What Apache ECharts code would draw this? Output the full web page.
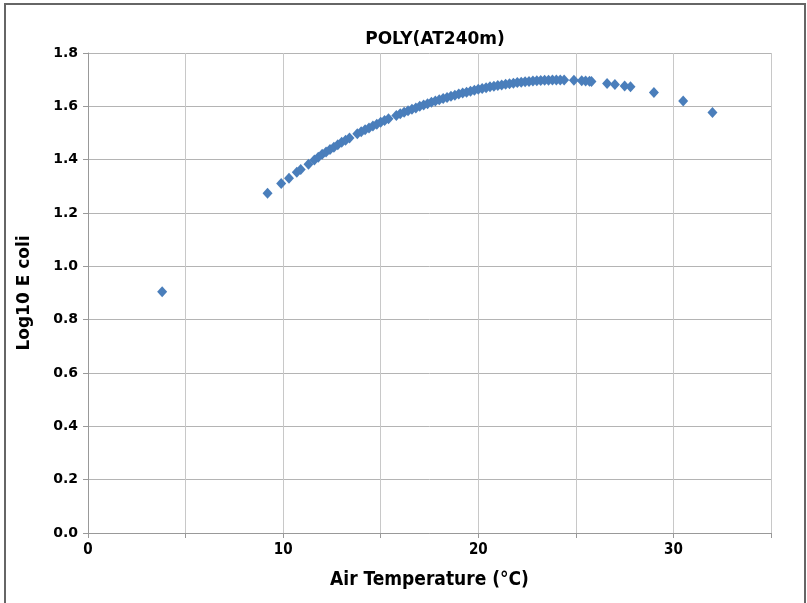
<!DOCTYPE html>
<html>
<head>
<meta charset="utf-8">
<title>POLY(AT240m)</title>
<script src="https://cdn.jsdelivr.net/npm/echarts@6/dist/echarts.min.js"></script>
<style>
  html, body { margin: 0; padding: 0; background: #fff; }
  #main { width: 807px; height: 603px; }
</style>
</head>
<body>
<div id="main"></div>
<script>
// air temperature (°C)
var temps = [
  3.8, 9.2, 9.9, 10.3, 10.7, 10.9, 11.3, 11.6, 11.8,
  12.0, 12.2, 12.4, 12.6, 12.8, 13.0, 13.2, 13.4,
  13.8, 14.0, 14.2, 14.4, 14.6, 14.8, 15.0, 15.2, 15.4,
  15.8, 16.0, 16.2, 16.4, 16.6, 16.8, 17.0, 17.2, 17.4, 17.6, 17.8,
  18.0, 18.2, 18.4, 18.6, 18.8, 19.0, 19.2, 19.4, 19.6, 19.8,
  20.0, 20.2, 20.4, 20.6, 20.8, 21.0, 21.2, 21.4, 21.6, 21.8,
  22.0, 22.2, 22.4, 22.6, 22.8, 23.0, 23.2, 23.4, 23.6, 23.8,
  24.0, 24.2, 24.4, 24.9, 25.3, 25.5, 25.7, 25.8,
  26.6, 27.0, 27.5, 27.8, 29.0, 30.5, 32.0
];
// log10 E coli
var logEcoli = [
  0.905, 1.274, 1.311, 1.330, 1.353, 1.363, 1.383, 1.399, 1.409,
  1.420, 1.429, 1.438, 1.447, 1.456, 1.465, 1.473, 1.481,
  1.497, 1.505, 1.512, 1.519, 1.526, 1.533, 1.540, 1.547, 1.553,
  1.566, 1.572, 1.578, 1.583, 1.589, 1.594, 1.600, 1.605, 1.610, 1.615, 1.620,
  1.625, 1.629, 1.633, 1.638, 1.642, 1.646, 1.650, 1.653, 1.657, 1.660,
  1.664, 1.667, 1.670, 1.673, 1.675, 1.678, 1.680, 1.683, 1.685, 1.687,
  1.689, 1.690, 1.692, 1.693, 1.695, 1.696, 1.697, 1.698, 1.698, 1.699,
  1.699, 1.699, 1.699, 1.698, 1.696, 1.695, 1.694, 1.693,
  1.686, 1.682, 1.676, 1.673, 1.652, 1.620, 1.577
];
var xLabels = ['0', '10', '20', '30'];

var points = [];
for (var i = 0; i < temps.length; i++) {
  points.push([temps[i], logEcoli[i]]);
}

var narrow = '"DejaVu Sans Condensed", "Liberation Sans", sans-serif';

var myChart = echarts.init(document.getElementById('main'));

var option = {
  animation: false,
  backgroundColor: '#fff',
  title: {
    text: 'POLY(AT240m)',
    left: 430,
    top: 26,
    textAlign: 'center',
    textStyle: { fontFamily: 'DejaVu Sans', fontWeight: 'bold', fontSize: 17, color: '#000' }
  },
  graphic: [{
    type: 'polyline',
    shape: { points: [[5, 603], [5, 4], [805, 4], [805, 603]] },
    style: { stroke: '#666', lineWidth: 2, fill: null }
  }],
  grid: { left: 88, right: 36, top: 53, bottom: 70 },
  xAxis: {
    type: 'value',
    min: 0, max: 35, interval: 5,
    name: 'Air Temperature (°C)',
    nameLocation: 'middle',
    nameGap: 38,
    nameTextStyle: { fontFamily: narrow, fontWeight: 'bold', fontSize: 19, color: '#000' },
    axisLine: { show: true, lineStyle: { color: '#999', width: 1 } },
    axisTick: { show: true, length: 5, lineStyle: { color: '#999' } },
    axisLabel: {
      margin: 10,
      fontFamily: narrow, fontWeight: 'bold', fontSize: 15, color: '#000',
      formatter: function (v) {
        var s = String(v);
        return xLabels.indexOf(s) >= 0 ? s : '';
      }
    },
    splitLine: { show: true, lineStyle: { color: '#c8c8c8', width: 1 } }
  },
  yAxis: {
    type: 'value',
    min: 0, max: 1.8, interval: 0.2,
    name: 'Log10 E coli',
    nameLocation: 'middle',
    nameRotate: 90,
    nameGap: 55,
    nameTextStyle: { fontFamily: 'DejaVu Sans', fontWeight: 'bold', fontSize: 17, color: '#000' },
    axisLine: { show: true, lineStyle: { color: '#999', width: 1 } },
    axisTick: { show: true, length: 5, lineStyle: { color: '#999' } },
    axisLabel: {
      margin: 10,
      fontFamily: 'DejaVu Sans', fontWeight: 'bold', fontSize: 14, color: '#000',
      formatter: function (v) { return v.toFixed(1); }
    },
    splitLine: { show: true, lineStyle: { color: '#b4b4b4', width: 1 } }
  },
  series: [{
    type: 'scatter',
    data: points,
    symbol: 'diamond',
    symbolSize: [10, 11],
    itemStyle: { color: '#4a7ebb', opacity: 1 }
  }]
};

myChart.setOption(option);
</script>
</body>
</html>
